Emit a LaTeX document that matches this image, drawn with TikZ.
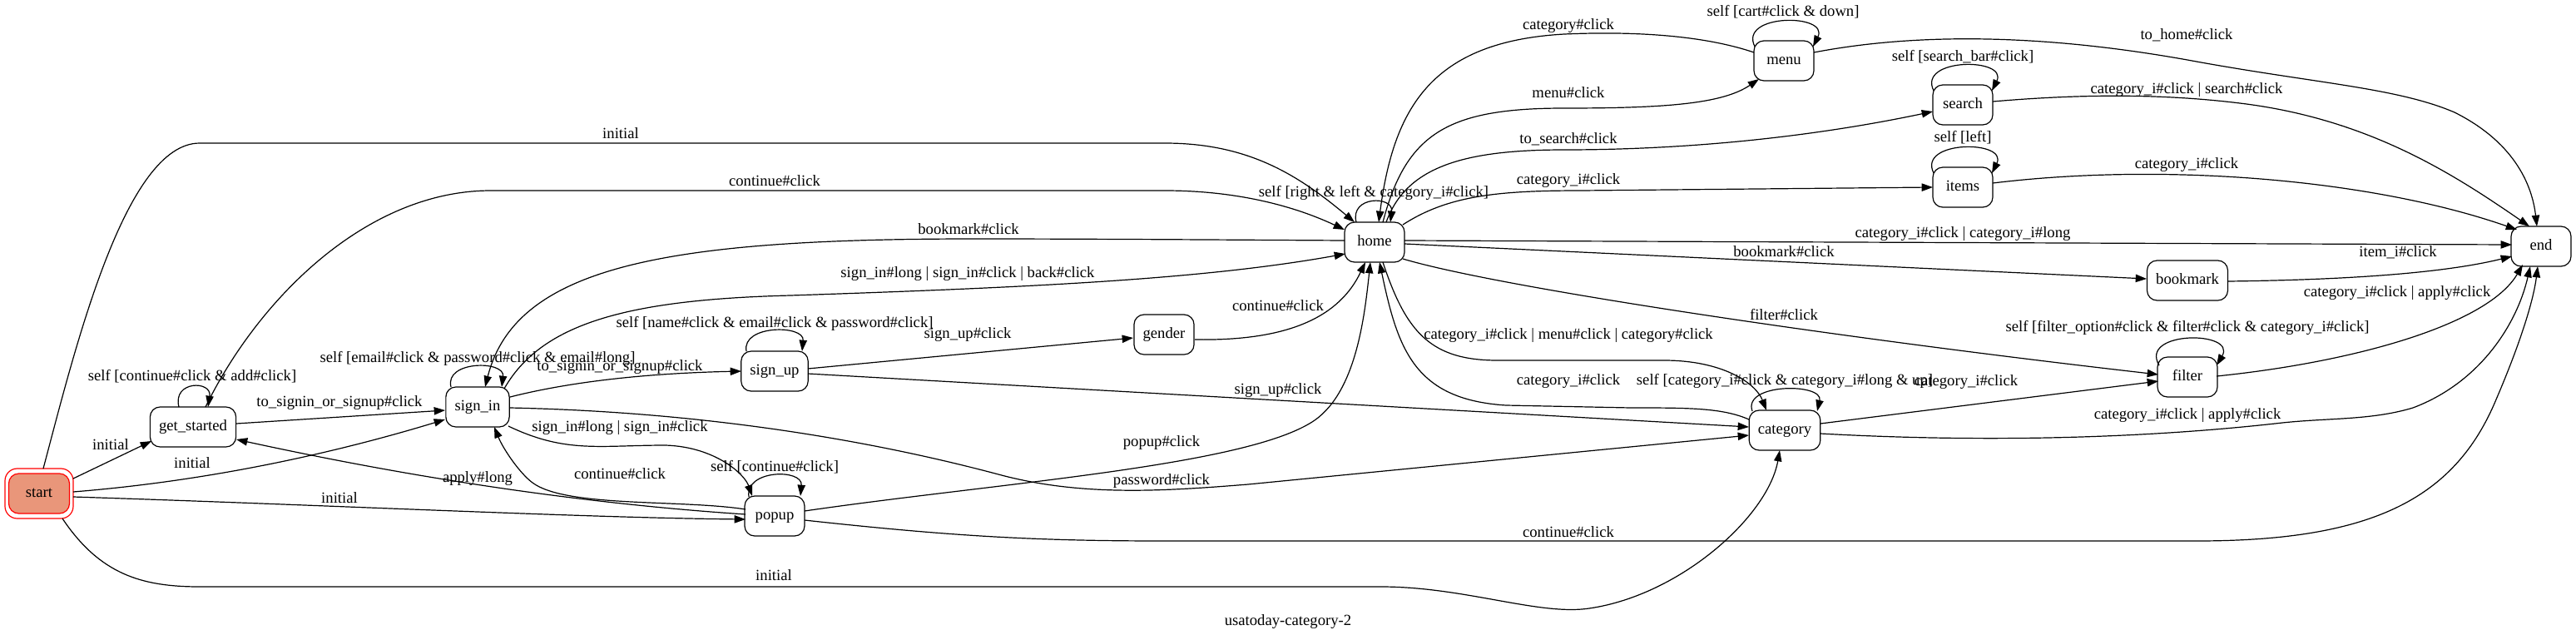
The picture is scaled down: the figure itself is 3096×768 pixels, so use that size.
\documentclass[tikz,border=0pt]{standalone}
\usepackage{fontspec}
\setmainfont{Liberation Serif}
\usetikzlibrary{calc,arrows.meta}
\definecolor{salmonfill}{HTML}{E9967A}
\newcommand{\gvfont}{\fontsize{14pt}{16pt}\selectfont}
\tikzset{
  gvnode/.style={draw, line width=0.9pt, rounded corners=9pt, minimum width=54pt, minimum height=36pt, inner xsep=8pt, inner ysep=0pt, font=\gvfont, text height=9pt, text depth=2.5pt},
  lbl/.style={inner sep=0pt, font=\gvfont, text height=9pt, text depth=2.5pt},
  conn/.style={draw, line width=0.9pt, -{Triangle[length=10pt,width=7pt]}},
}
\begin{document}
\begin{tikzpicture}[x=0.75pt, y=-0.75pt]
\fill[white] (0,0) rectangle (3096,768);
\useasboundingbox (0,0) rectangle (3096,768);

% nodes
\node[gvnode, fill=salmonfill, draw=red, minimum width=54.75pt] (startin) at (47,593) {start};
\node[draw=red, line width=0.9pt, rounded corners=11pt, minimum width=61.5pt, minimum height=45pt] (start) at (47,593) {};
\node[gvnode] (gs) at (232,513) {get\_started};
\node[gvnode] (si) at (574,489) {sign\_in};
\node[gvnode] (su) at (931,446) {sign\_up};
\node[gvnode] (pu) at (931,620) {popup};
\node[gvnode] (ge) at (1399,402) {gender};
\node[gvnode] (ho) at (1652,291) {home};
\node[gvnode] (me) at (2144,73) {menu};
\node[gvnode] (se) at (2359,126) {search};
\node[gvnode] (it) at (2359,225) {items};
\node[gvnode] (bm) at (2629,337) {bookmark};
\node[gvnode] (fi) at (2629,453) {filter};
\node[gvnode] (ca) at (2145,517) {category};
\node[gvnode] (en) at (3054,296) {end};

% edges from start
\draw[conn] ($(start)+(41,-18)$) -- ($(gs)+(-50,17)$);
\draw[conn] ($(start)+(41,-2)$) .. controls (250,578) and (400,545) .. ($(si)+(-39,15)$);
\draw[conn] ($(start)+(41,4)$) .. controls (400,607) and (700,622) .. ($(pu)+(-35,4)$);
\draw[conn] ($(start)+(5,-30)$) .. controls (90,420) and (150,172) .. (240,172) -- (1400,172) .. controls (1500,172) and (1560,210) .. ($(ho)+(-24,-24)$);
\draw[conn] ($(start)+(28,30)$) .. controls (120,690) and (170,705) .. (240,705) -- (1660,705) .. controls (1760,705) and (1850,740) .. (1910,731) .. controls (2020,715) and (2125,620) .. ($(ca)+(-6,24)$);

% get_started
\draw[conn] ($(gs)+(-17,-24)$) .. controls +(-8,-32) and +(5,-32) .. ($(gs)+(18,-24)$);
\draw[conn] ($(gs)+(52,-4)$) -- ($(si)+(-39,4)$);
\draw[conn] ($(gs)+(15,-24)$) .. controls (310,360) and (440,229) .. (590,229) -- (1400,229) .. controls (1480,229) and (1550,245) .. ($(ho)+(-36,-15)$);

% sign_in
\draw[conn] ($(si)+(-32,-24)$) .. controls +(-8,-32) and +(4,-32) .. ($(si)+(29,-24)$);
\draw[conn] ($(ho)+(-36,-2)$) .. controls (1450,288) and (1300,287) .. (1170,287) .. controls (800,287) and (620,320) .. ($(si)+(9,-24)$);
\draw[conn] ($(si)+(32,-22)$) .. controls (650,390) and (750,360) .. (950,355) .. controls (1250,345) and (1450,335) .. ($(ho)+(-35,14)$);
\draw[conn] ($(si)+(39,-12)$) .. controls (700,455) and (800,448) .. ($(su)+(-40,0)$);
\draw[conn] ($(si)+(39,1)$) .. controls (850,495) and (1050,530) .. (1200,570) .. controls (1300,597) and (1400,590) .. (1500,582) -- ($(ca)+(-43,6)$);
\draw[conn] ($(si)+(37,23)$) .. controls (680,545) and (720,535) .. (800,535) .. controls (860,537) and (895,570) .. ($(pu)+(-27,-24)$);

% sign_up
\draw[conn] ($(su)+(-34,-24)$) .. controls +(-6,-32) and +(3,-32) .. ($(su)+(33,-24)$);
\draw[conn] ($(su)+(40,-3)$) -- ($(ge)+(-37,4)$);
\draw[conn] ($(su)+(40,3)$) -- ($(ca)+(-43,-4)$);

% popup
\draw[conn] ($(pu)+(-31,-23)$) .. controls +(-5,-33) and +(3,-33) .. ($(pu)+(31,-24)$);
\draw[conn] ($(pu)+(-35,-8)$) .. controls (820,600) and (680,610) .. (640,580) .. controls (625,569) and (605,540) .. ($(si)+(20,24)$);
\draw[conn] ($(pu)+(-35,-2)$) .. controls (700,605) and (500,575) .. ($(gs)+(52,15)$);
\draw[conn] ($(pu)+(36,-6)$) .. controls (1200,580) and (1500,560) .. (1580,505) .. controls (1630,470) and (1640,380) .. ($(ho)+(-5,24)$);
\draw[conn] ($(pu)+(36,5)$) .. controls (1150,645) and (1250,650) .. (1400,650) -- (2640,650) .. controls (2850,650) and (2950,600) .. (3000,480) .. controls (3030,410) and (3045,360) .. ($(en)+(-4,24)$);

% gender
\draw[conn] ($(ge)+(37,6)$) .. controls (1550,410) and (1610,380) .. ($(ho)+(-11,24)$);

% home
\draw[conn] ($(ho)+(-22,-24)$) .. controls +(-8,-32) and +(4,-32) .. ($(ho)+(19,-24)$);
\draw[conn] ($(me)+(-36,-10)$) .. controls (2040,40) and (1950,38) .. (1880,41) .. controls (1720,50) and (1675,130) .. ($(ho)+(5,-24)$);
\draw[conn] ($(ho)+(10,-24)$) .. controls (1690,160) and (1740,130) .. (1880,130) .. controls (2000,130) and (2070,125) .. ($(me)+(-30,22)$);
\draw[conn] ($(ho)+(14,-24)$) .. controls (1690,200) and (1760,180) .. (1880,180) .. controls (2050,180) and (2200,160) .. ($(se)+(-36,8)$);
\draw[conn] ($(ho)+(34,-21)$) .. controls (1740,235) and (1800,229) .. (1900,229) -- ($(it)+(-36,0)$);
\draw[conn] ($(ho)+(36,-2)$) -- ($(en)+(-35,-2)$);
\draw[conn] ($(ho)+(36,2)$) -- ($(bm)+(-49,-2)$);
\draw[conn] ($(ho)+(34,20)$) .. controls (1800,345) and (2200,405) .. ($(fi)+(-35,-3)$);
\draw[conn] ($(ho)+(10,24)$) .. controls (1690,400) and (1720,433) .. (1800,433) -- (2000,433) .. controls (2070,433) and (2110,460) .. ($(ca)+(-22,-24)$);

% category
\draw[conn] ($(ca)+(-43,-13)$) .. controls (2070,490) and (2030,490) .. (1960,490) -- (1810,487) .. controls (1700,480) and (1680,420) .. ($(ho)+(6,24)$);
\draw[conn] ($(ca)+(-39,-23)$) .. controls +(-12,-34) and +(8,-34) .. ($(ca)+(39,-23)$);
\draw[conn] ($(ca)+(43,-8)$) -- ($(fi)+(-35,5)$);
\draw[conn] ($(ca)+(43,4)$) .. controls (2350,530) and (2550,530) .. (2743,508) .. controls (2800,502) and (2850,505) .. (2900,490) .. controls (2980,460) and (3025,390) .. ($(en)+(-13,24)$);

% filter
\draw[conn] ($(fi)+(-34,-14)$) .. controls +(-25,-42) and +(25,-42) .. ($(fi)+(35,-14)$);
\draw[conn] ($(fi)+(35,-1)$) .. controls (2830,435) and (2990,390) .. ($(en)+(-22,22)$);

% bookmark
\draw[conn] ($(bm)+(48,1)$) .. controls (2850,336) and (2950,325) .. ($(en)+(-35,12)$);

% menu
\draw[conn] ($(me)+(-35,-17)$) .. controls +(-20,-40) and +(20,-40) .. ($(me)+(35,-17)$);
\draw[conn] ($(me)+(36,-10)$) .. controls (2300,40) and (2450,40) .. (2629,72) .. controls (2780,100) and (2880,105) .. (2950,135) .. controls (3020,170) and (3043,220) .. ($(en)+(-5,-24)$);

% search
\draw[conn] ($(se)+(-35,-17)$) .. controls +(-20,-40) and +(20,-40) .. ($(se)+(35,-17)$);
\draw[conn] ($(se)+(36,-4)$) .. controls (2500,113) and (2600,112) .. (2700,125) .. controls (2850,145) and (2950,210) .. ($(en)+(-14,-24)$);

% items
\draw[conn] ($(it)+(-35,-17)$) .. controls +(-20,-40) and +(20,-40) .. ($(it)+(35,-17)$);
\draw[conn] ($(it)+(36,-5)$) .. controls (2600,195) and (2850,215) .. ($(en)+(-29,-20)$);

% labels
\node[lbl] (l1) at (133,536) {initial};
\node[lbl] (l2) at (231,558) {initial};
\node[lbl] (l3) at (408,600) {initial};
\node[lbl] (l4) at (746,162) {initial};
\node[lbl] (l5) at (930,693) {initial};
\node[lbl] (l6) at (231,453) {self [continue\#click \& add\#click]};
\node[lbl] (l7) at (408,484) {to\_signin\_or\_signup\#click};
\node[lbl] (l8) at (931,219) {continue\#click};
\node[lbl] (l9) at (574,431) {self [email\#click \& password\#click \& email\#long]};
\node[lbl] (l10) at (1164,277) {bookmark\#click};
\node[lbl] (l11) at (1163,329) {sign\_in\#long | sign\_in\#click | back\#click};
\node[lbl] (l12) at (745,441) {to\_signin\_or\_signup\#click};
\node[lbl] (l13) at (931,389) {self [name\#click \& email\#click \& password\#click]};
\node[lbl] (l14) at (1163,402) {sign\_up\#click};
\node[lbl] (l15) at (1536,469) {sign\_up\#click};
\node[lbl] (l16) at (1396,578) {password\#click};
\node[lbl] (l17) at (745,514) {sign\_in\#long | sign\_in\#click};
\node[lbl] (l18) at (931,562) {self [continue\#click]};
\node[lbl] (l19) at (745,571) {continue\#click};
\node[lbl] (l20) at (574,575) {apply\#long};
\node[lbl] (l21) at (1396,532) {popup\#click};
\node[lbl] (l22) at (1885,641) {continue\#click};
\node[lbl] (l23) at (1536,369) {continue\#click};
\node[lbl] (l24) at (1651,232) {self [right \& left \& category\_i\#click]};
\node[lbl] (l25) at (1885,31) {category\#click};
\node[lbl] (l26) at (1885,113) {menu\#click};
\node[lbl] (l27) at (1885,168) {to\_search\#click};
\node[lbl] (l28) at (1885,217) {category\_i\#click};
\node[lbl] (l29) at (2359,281) {category\_i\#click | category\_i\#long};
\node[lbl] (l30) at (2144,304) {bookmark\#click};
\node[lbl] (l31) at (2144,380) {filter\#click};
\node[lbl] (l32) at (1885,403) {category\_i\#click | menu\#click | category\#click};
\node[lbl] (l33) at (1885,458) {category\_i\#click};
\node[lbl] (l34) at (2145,458) {self [category\_i\#click \& category\_i\#long \& up]};
\node[lbl] (l35) at (2363,459) {category\_i\#click};
\node[lbl] (l36) at (2629,499) {category\_i\#click | apply\#click};
\node[lbl] (l37) at (2629,394) {self [filter\_option\#click \& filter\#click \& category\_i\#click]};
\node[lbl] (l38) at (2881,352) {category\_i\#click | apply\#click};
\node[lbl] (l39) at (2882,304) {item\_i\#click};
\node[lbl] (l40) at (2143,15) {self [cart\#click \& down]};
\node[lbl] (l41) at (2628,43) {to\_home\#click};
\node[lbl] (l42) at (2359,69) {self [search\_bar\#click]};
\node[lbl] (l43) at (2628,108) {category\_i\#click | search\#click};
\node[lbl] (l44) at (2359,166) {self [left]};
\node[lbl] (l45) at (2628,198) {category\_i\#click};
\node[lbl] (cap) at (1548,747) {usatoday-category-2};
\end{tikzpicture}
\end{document}
